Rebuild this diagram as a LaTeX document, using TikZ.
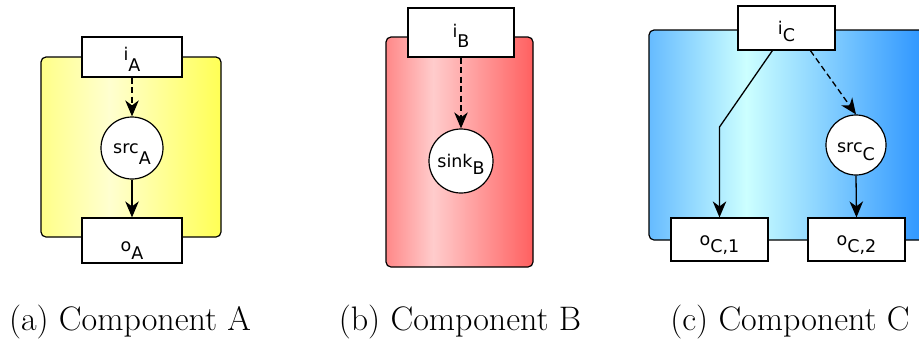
\documentclass[tikz,border=0pt]{standalone}
\usepackage{fontspec}
\newfontfamily\nodefont{DejaVu Sans}
\usetikzlibrary{arrows.meta,calc}
\definecolor{yA1}{HTML}{FFFF88}
\definecolor{yA2}{HTML}{FFFFD0}
\definecolor{yA3}{HTML}{FFFF55}
\definecolor{rB1}{HTML}{FF8888}
\definecolor{rB2}{HTML}{FFCCCC}
\definecolor{rB3}{HTML}{FF6060}
\definecolor{bC1}{HTML}{66BBFF}
\definecolor{bC2}{HTML}{CCFFFF}
\definecolor{bC3}{HTML}{3399FF}
% the path's bounding box is mapped to 25bp..75bp of the shading
\pgfdeclarehorizontalshading{shA}{100bp}{color(0bp)=(yA1); color(25bp)=(yA1); color(44bp)=(yA2); color(75bp)=(yA3); color(100bp)=(yA3)}
\pgfdeclarehorizontalshading{shB}{100bp}{color(0bp)=(rB1); color(25bp)=(rB1); color(41bp)=(rB2); color(75bp)=(rB3); color(100bp)=(rB3)}
\pgfdeclarehorizontalshading{shC}{100bp}{color(0bp)=(bC1); color(25bp)=(bC1); color(42bp)=(bC2); color(72bp)=(bC3); color(100bp)=(bC3)}
\newcommand\lsub[2][10pt]{\raisebox{-#1}{#2}}
\tikzset{
  compbox/.style={draw=black, line width=1.2pt, rounded corners=5pt, inner sep=0pt},
  port/.style={draw=black, fill=white, line width=1.2pt, inner sep=0pt, font=\nodefont\fontsize{17.5}{20}\selectfont},
  proc/.style={circle, draw=black, fill=white, line width=1.2pt, inner sep=0pt, font=\nodefont\fontsize{17.5}{20}\selectfont},
  tpos/.style={text depth=12pt, text height=#1},
  arr/.style={line width=1.3pt, -{Stealth[length=16pt,width=13.5pt,inset=5pt]}},
  dasharr/.style={arr, dash pattern=on 6pt off 3.5pt},
  caption/.style={anchor=base, inner sep=0pt, font=\fontsize{34}{40}\selectfont}
}
\begin{document}
\begin{tikzpicture}[x=1pt,y=-1pt]
\useasboundingbox (0,0) rectangle (919,349);
\clip (0,0) rectangle (919,349);
% Component A
\node[compbox, shading=shA, minimum width=180pt, minimum height=180pt] (boxA) at (131,147) {};
\node[port, tpos=19.4pt, minimum width=100pt, minimum height=40pt] (iA) at (132,57) {i\lsub[11pt]{A}};
\node[proc, tpos=22pt, minimum size=62pt] (srcA) at (132,148) {src\lsub[11pt]{A}};
\node[port, tpos=33pt, minimum width=100pt, minimum height=41pt] (oA) at (132,240.5) {o\lsub[8pt]{A}};
\draw[dasharr] (iA.south) -- (srcA.north);
\draw[arr] (srcA.south) -- (oA.north);
% Component B
\node[compbox, shading=shB, minimum width=147pt, minimum height=230pt] (boxB) at (459.5,152) {};
\node[port, tpos=21pt, minimum width=106pt, minimum height=49pt] (iB) at (461,32.5) {i\lsub[10pt]{B}};
\node[proc, tpos=24pt, minimum size=64pt] (sinkB) at (461,161) {sink\lsub[7pt]{B}};
\draw[dasharr] (iB.south) -- (sinkB.north);
% Component C
\node[compbox, shading=shC, minimum width=286pt, minimum height=210pt] (boxC) at (792,135) {};
\node[port, tpos=24pt, minimum width=97pt, minimum height=44pt] (iC) at (786.5,28) {i\lsub[7pt]{C}};
\node[proc, tpos=26pt, minimum size=60pt] (srcC) at (856,145) {src\lsub[8pt]{C}};
\node[port, tpos=23pt, minimum width=97pt, minimum height=43pt] (oC1) at (719.5,239.5) {o\lsub[7pt]{C,1}};
\node[port, tpos=23pt, minimum width=97pt, minimum height=43pt] (oC2) at (856.5,239.5) {o\lsub[7pt]{C,2}};
\coordinate (bend) at (oC1.north |- 0,127);
\draw[arr] ([xshift=35pt]iC.south west) -- (bend) -- (oC1.north);
\draw[dasharr] ([xshift=73pt]iC.south west) -- (srcC.north);
\draw[arr] (srcC.south) -- (oC2.north);
% captions
\node[caption] (capA) at (130,330) {(a) Component A};
\node[caption] (capB) at (460,330) {(b) Component B};
\node[caption] (capC) at (790,330) {(c) Component C};
\end{tikzpicture}
\end{document}
